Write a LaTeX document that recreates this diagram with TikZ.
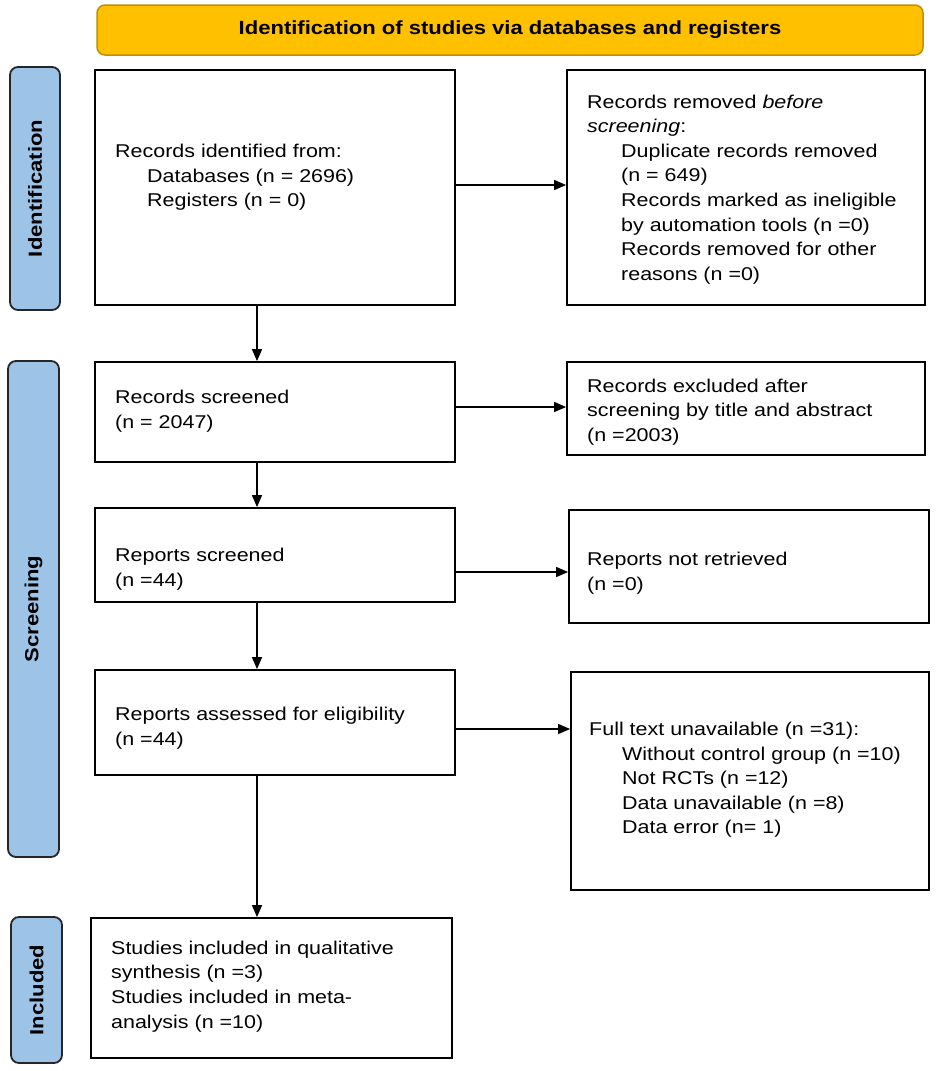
\documentclass[tikz,border=0pt]{standalone}
\usepackage{fontspec}
\setmainfont{Liberation Sans}[FakeStretch=1.16]
\usetikzlibrary{arrows.meta}
\definecolor{hdr}{HTML}{FFC000}
\definecolor{hdrline}{HTML}{BF9000}
\definecolor{sidefill}{HTML}{9DC3E6}
\definecolor{sideline}{HTML}{262626}
\begin{document}
\begin{tikzpicture}[x=1pt,y=-1pt,
  box/.style={draw=black,line width=1.8pt,inner sep=0pt},
  sidebox/.style={draw=sideline,fill=sidefill,line width=1.8pt,rounded corners=8pt,inner sep=0pt},
  sidetext/.style={rotate=90,font=\fontsize{19}{21}\selectfont\bfseries},
  txt/.style={anchor=west,align=left,inner sep=0pt,font=\fontsize{18.5}{24.6}\selectfont},
  arr/.style={line width=1.4pt,-{Triangle[length=12pt,width=10pt]}}]
\useasboundingbox (0,0) rectangle (935,1071);
% header
\node[draw=hdrline,fill=hdr,line width=1.5pt,rounded corners=8pt,minimum width=826pt,minimum height=50pt,inner sep=0pt] (hdr) at (510,30) {};
\node[font=\fontsize{19}{21}\selectfont\bfseries] (hdrtxt) at (hdr.center) {Identification of studies via databases and registers};
% side labels
\node[sidebox,minimum width=50pt,minimum height=243pt] (s1) at (35,188.5) {};
\node[sidetext] (s1t) at (s1.center) {Identification};
\node[sidebox,minimum width=51pt,minimum height=496pt] (s2) at (33.5,609) {};
\node[sidetext] (s2t) at (s2.center) {Screening};
\node[sidebox,minimum width=51pt,minimum height=146pt] (s3) at (36.5,990) {};
\node[sidetext] (s3t) at (s3.center) {Included};
% boxes
\node[box,minimum width=360pt,minimum height=235pt] (b1) at (275,187.5) {};
\node[box,minimum width=358pt,minimum height=235pt] (r1) at (746,187.5) {};
\node[box,minimum width=360pt,minimum height=100pt] (b2) at (275,412) {};
\node[box,minimum width=358pt,minimum height=93pt] (r2) at (746,408.5) {};
\node[box,minimum width=360pt,minimum height=94pt] (b3) at (275,555) {};
\node[box,minimum width=360pt,minimum height=113pt] (r3) at (749,566.5) {};
\node[box,minimum width=360pt,minimum height=105pt] (b4) at (275,722.5) {};
\node[box,minimum width=358pt,minimum height=218pt] (r4) at (750,781) {};
\node[box,minimum width=361pt,minimum height=140pt] (b5) at (271.5,988) {};
% texts
\node[txt] (b1t) at (115,177.5) {Records identified from:\\\hspace*{32pt}Databases (n = 2696)\\\hspace*{32pt}Registers (n = 0)};
\node[txt] (r1t) at (587,189.5) {Records removed \textit{before}\\\textit{screening}:\\\hspace*{34pt}Duplicate records removed\\\hspace*{34pt}(n = 649)\\\hspace*{34pt}Records marked as ineligible\\\hspace*{34pt}by automation tools (n =0)\\\hspace*{34pt}Records removed for other\\\hspace*{34pt}reasons (n =0)};
\node[txt] (b2t) at (115,411.5) {Records screened\\(n = 2047)};
\node[txt] (r2t) at (587,412) {Records excluded after\\screening by title and abstract\\(n =2003)};
\node[txt] (b3t) at (115,569) {Reports screened\\(n =44)};
\node[txt] (r3t) at (587,573) {Reports not retrieved\\(n =0)};
\node[txt] (b4t) at (115,728.5) {Reports assessed for eligibility\\(n =44)};
\node[txt] (r4t) at (589,780) {Full text unavailable (n =31):\\\hspace*{33pt}Without control group (n =10)\\\hspace*{33pt}Not RCTs (n =12)\\\hspace*{33pt}Data unavailable (n =8)\\\hspace*{33pt}Data error (n= 1)};
\node[txt] (b5t) at (111,986.5) {Studies included in qualitative\\synthesis (n =3)\\Studies included in meta-\\analysis (n =10)};
% connectors
\coordinate (vx) at (257,0);
\coordinate (h1) at (0,185);
\coordinate (h2) at (0,407);
\coordinate (h3) at (0,572);
\coordinate (h4) at (0,729);
\draw[arr] (b1.south -| vx) -- (b2.north -| vx);
\draw[arr] (b2.south -| vx) -- (b3.north -| vx);
\draw[arr] (b3.south -| vx) -- (b4.north -| vx);
\draw[arr] (b4.south -| vx) -- (b5.north -| vx);
\draw[arr] (b1.east |- h1) -- (r1.west |- h1);
\draw[arr] (b2.east |- h2) -- (r2.west |- h2);
\draw[arr] (b3.east |- h3) -- (r3.west |- h3);
\draw[arr] (b4.east |- h4) -- (r4.west |- h4);
\end{tikzpicture}
\end{document}
